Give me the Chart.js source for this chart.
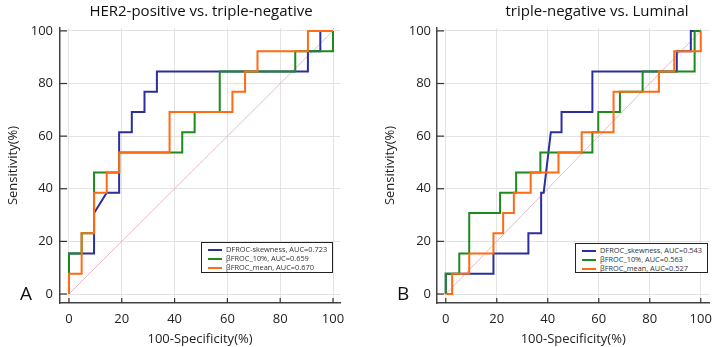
<!DOCTYPE html>
<html>
<head>
<meta charset="utf-8">
<script src="https://cdn.jsdelivr.net/npm/chart.js@4"></script>
<style>
  body { margin: 0; background: #fff; font-family: "Open Sans", sans-serif; }
  #wrap { position: relative; width: 720px; height: 347px; overflow: hidden; }
  canvas { position: absolute; top: 0; }
  .title { position: absolute; top: 0; font-size: 15px; color: #111; white-space: nowrap; transform: translateX(-50%); }
  .panel-tag { position: absolute; font-size: 19px; color: #111; }
  .legend { position: absolute; border: 1px solid #222; background: #fff; font-size: 7.4px; color: #333; padding: 2px 0 0 6px; box-sizing: border-box; }
  .legend div { height: 9px; line-height: 9px; white-space: nowrap; }
  .legend span { display: inline-block; width: 14px; height: 2px; vertical-align: middle; margin-right: 4px; }
</style>
</head>
<body>
<div id="wrap">
  <canvas id="chartA" width="360" height="347" style="left:0"></canvas>
  <canvas id="chartB" width="360" height="347" style="left:360px"></canvas>
  <div class="title" style="left:201px">HER2-positive vs. triple-negative</div>
  <div class="title" style="left:597px">triple-negative vs. Luminal</div>
  <div class="panel-tag" style="left:20px;top:280px">A</div>
  <div class="panel-tag" style="left:397px;top:280px">B</div>
  <div class="legend" id="legendA" style="left:201px;top:242px;width:132px;height:31px"></div>
  <div class="legend" id="legendB" style="left:575px;top:243px;width:133px;height:30px"></div>
</div>
<script>
// ticks shared by both panels
const tickVals = [0, 20, 40, 60, 80, 100];

// panel A: HER2-positive vs. triple-negative (corner points of the ROC steps)
const aSkewX = [0, 0, 9.5, 9.5, 14.3, 19, 19, 23.8, 23.8, 28.6, 28.6, 33.3, 33.3, 90.5, 90.5, 95.2, 95.2, 100];
const aSkewY = [0, 15.4, 15.4, 30.8, 38.5, 38.5, 61.5, 61.5, 69.2, 69.2, 76.9, 76.9, 84.6, 84.6, 92.3, 92.3, 100, 100];
const a10X = [0, 0, 4.8, 4.8, 9.5, 9.5, 19, 19, 42.9, 42.9, 47.6, 47.6, 57.1, 57.1, 85.7, 85.7, 100, 100];
const a10Y = [0, 15.4, 15.4, 23.1, 23.1, 46.2, 46.2, 53.8, 53.8, 61.5, 61.5, 69.2, 69.2, 84.6, 84.6, 92.3, 92.3, 100];
const aMeanX = [0, 0, 4.8, 4.8, 9.5, 9.5, 14.3, 14.3, 19, 19, 38.1, 38.1, 61.9, 61.9, 66.7, 66.7, 71.4, 71.4, 90.5, 90.5, 100];
const aMeanY = [0, 7.7, 7.7, 23.1, 23.1, 38.5, 38.5, 46.2, 46.2, 53.8, 53.8, 69.2, 69.2, 76.9, 76.9, 84.6, 84.6, 92.3, 92.3, 100, 100];
const aLabels = ["DFROC-skewness, AUC=0.723", "\u03b2FROC_10%, AUC=0.659", "\u03b2FROC_mean, AUC=0.670"];

// panel B: triple-negative vs. Luminal
const bSkewX = [0, 0, 18.7, 18.7, 32.4, 32.4, 37.4, 37.4, 38.4, 41.2, 45.4, 45.4, 57.5, 57.5, 90.6, 90.6, 96.1, 96.1, 100];
const bSkewY = [0, 7.7, 7.7, 15.4, 15.4, 23.1, 23.1, 38.5, 38.5, 61.5, 61.5, 69.2, 69.2, 84.6, 84.6, 92.3, 92.3, 100, 100];
const b10X = [0, 0, 5.3, 5.3, 9.2, 9.2, 21.3, 21.3, 27.6, 27.6, 37.1, 37.1, 57.5, 57.5, 59.8, 59.8, 68.3, 68.3, 77.2, 77.2, 97.6, 97.6, 100];
const b10Y = [0, 7.7, 7.7, 15.4, 15.4, 30.8, 30.8, 38.5, 38.5, 46.2, 46.2, 53.8, 53.8, 61.5, 61.5, 69.2, 69.2, 76.9, 76.9, 84.6, 84.6, 100, 100];
const bMeanX = [0, 2.5, 2.5, 9.2, 9.2, 18.7, 18.7, 22.5, 22.5, 26.7, 26.7, 33.3, 33.3, 44.2, 44.2, 53.3, 53.3, 65.8, 65.8, 83.6, 83.6, 89.6, 89.6, 100, 100];
const bMeanY = [0, 0, 7.7, 7.7, 15.4, 15.4, 23.1, 23.1, 30.8, 30.8, 38.5, 38.5, 46.2, 46.2, 53.8, 53.8, 61.5, 61.5, 76.9, 76.9, 84.6, 84.6, 92.3, 92.3, 100];
const bLabels = ["DFROC_skewness, AUC=0.543", "\u03b2FROC_10%, AUC=0.563", "\u03b2FROC_mean, AUC=0.527"];

// chance line
const diagX = [0, 100];
const diagY = [0, 100];

const colors = ["#2b2f9c", "#1c8a1c", "#ff6a13"];
const FONT = "'Open Sans', sans-serif";

const toPts = (xs, ys) => xs.map((x, i) => ({ x: x, y: ys[i] }));

// short dark tick marks pointing into the plot, like the original
const innerTicks = {
  id: "innerTicks",
  afterDraw(chart) {
    const { ctx, chartArea, scales } = chart;
    ctx.save();
    ctx.strokeStyle = "#333";
    ctx.lineWidth = 1.2;
    tickVals.forEach(v => {
      const px = scales.x.getPixelForValue(v);
      ctx.beginPath();
      ctx.moveTo(px, chartArea.bottom);
      ctx.lineTo(px, chartArea.bottom - 5);
      ctx.stroke();
      const py = scales.y.getPixelForValue(v);
      ctx.beginPath();
      ctx.moveTo(chartArea.left, py);
      ctx.lineTo(chartArea.left + 7, py);
      ctx.stroke();
    });
    ctx.restore();
  }
};

function makeChart(id, series, opt) {
  const ds = series.map((s, i) => ({
    data: toPts(s[0], s[1]),
    borderColor: colors[i],
    borderWidth: 2,
    order: 2 - i
  }));
  ds.push({ data: toPts(diagX, diagY), borderColor: "#e8bcc4", borderWidth: 1, order: 5 });

  const axisBase = (min, max) => ({
    type: "linear",
    min: min,
    max: max,
    afterBuildTicks: sc => { sc.ticks = tickVals.map(v => ({ value: v })); },
    grid: { color: "#e3e3e3", lineWidth: 1, drawTicks: false },
    border: { display: true, color: "#444", width: 1.5 },
  });

  const x = axisBase(opt.xMin, opt.xMax);
  x.ticks = { color: "#222", font: { family: FONT, size: 13 }, padding: 8, maxRotation: 0 };
  x.title = { display: true, text: "100-Specificity(%)", color: "#222", font: { family: FONT, size: 13, lineHeight: 1.1 }, padding: { top: 0, bottom: 1 } };
  x.afterFit = sc => { sc.height = 44; };

  const y = axisBase(-3.42, 101.1);
  y.ticks = { color: "#222", font: { family: FONT, size: 13 }, padding: opt.yPad };
  y.title = { display: true, text: "Sensitivity(%)", color: "#222", font: { family: FONT, size: 13 }, padding: { top: opt.yTitlePad, bottom: 0 } };
  y.afterFit = sc => { sc.width = opt.yWidth; };

  return new Chart(document.getElementById(id), {
    type: "scatter",
    data: { datasets: ds },
    options: {
      responsive: false,
      animation: false,
      devicePixelRatio: 1,
      showLine: true,
      elements: { point: { radius: 0, hoverRadius: 0 }, line: { tension: 0 } },
      layout: { padding: { top: 28, right: opt.right, left: 0, bottom: 0 } },
      plugins: { legend: { display: false }, tooltip: { enabled: false } },
      scales: { x: x, y: y }
    },
    plugins: [innerTicks]
  });
}

function fillLegend(id, labels) {
  const box = document.getElementById(id);
  labels.forEach((txt, i) => {
    const row = document.createElement("div");
    row.innerHTML = `<span style="background:${colors[i]}"></span>${txt}`;
    box.appendChild(row);
  });
}

makeChart("chartA", [[aSkewX, aSkewY], [a10X, a10Y], [aMeanX, aMeanY]],
  { xMin: -3.4, xMax: 102.65, right: 20, yWidth: 60, yPad: 7, yTitlePad: 5 });
makeChart("chartB", [[bSkewX, bSkewY], [b10X, b10Y], [bMeanX, bMeanY]],
  { xMin: -3.44, xMax: 103.4, right: 3, yWidth: 77, yPad: 6, yTitlePad: 22 });

fillLegend("legendA", aLabels);
fillLegend("legendB", bLabels);
</script>
</body>
</html>
